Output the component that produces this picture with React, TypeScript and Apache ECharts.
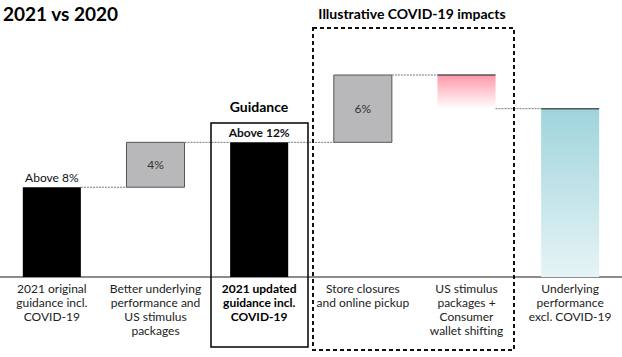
import React, { useEffect, useRef } from "react";
import * as echarts from "echarts";

const categories = [
  "2021 original\nguidance incl.\nCOVID-19",
  "Better underlying\nperformance and\nUS stimulus\npackages",
  "2021 updated\nguidance incl.\nCOVID-19",
  "Store closures\nand online pickup",
  "US stimulus\npackages +\nConsumer\nwallet shifting",
  "Underlying\nperformance\nexcl. COVID-19",
];
const starts = [0, 8, 0, 12, 18, 0];
const ends = [8, 12, 12, 18, 15, 15];
const kinds = ["total", "step", "total", "step", "drop", "result"];
const barLabels = ["Above 8%", "4%", "Above 12%", "6%", "", ""];

const FONT = "Lato, 'Noto Sans', sans-serif";

export default function App() {
  const ref = useRef<HTMLDivElement>(null);
  useEffect(() => {
    document.body.style.margin = "0";
    const chart = echarts.init(ref.current!, null, { renderer: "svg" });
    const data = categories.map((_, i) => [i, starts[i], ends[i]]);
    chart.setOption({
      animation: false,
      textStyle: { fontFamily: FONT },
      grid: { left: 0, right: 0, top: 75, bottom: 80 },
      xAxis: {
        type: "category",
        data: categories,
        axisLine: { lineStyle: { color: "#8c8c8c", width: 2 } },
        axisTick: { show: false },
        axisLabel: {
          interval: 0,
          margin: 4,
          fontFamily: FONT,
          fontSize: 12,
          lineHeight: 14,
          color: "#222",
          formatter: (v: string, i: number) =>
            i === 2
              ? v
                  .split("\n")
                  .map((l) => `{b|${l}}`)
                  .join("\n")
              : v,
          rich: {
            b: {
              fontWeight: "bold",
              fontFamily: FONT,
              fontSize: 12,
              lineHeight: 14,
              color: "#000",
            },
          },
        },
      },
      yAxis: { type: "value", min: 0, max: 18, show: false, splitLine: { show: false } },
      series: [
        {
          type: "custom",
          data,
          renderItem: (params: any, api: any) => {
            const i = api.value(0);
            const s = api.value(1);
            const e = api.value(2);
            const c0 = api.coord([i, s]);
            const c1 = api.coord([i, e]);
            const w = api.size([1, 0])[0] * 0.56;
            const x = c0[0] - w / 2;
            const top = Math.min(c0[1], c1[1]);
            const h = Math.abs(c0[1] - c1[1]);
            const kind = kinds[i];
            const children: any[] = [];
            let style: any;
            if (kind === "total") style = { fill: "#000" };
            else if (kind === "step")
              style = { fill: "#b8b8ba", stroke: "#555", lineWidth: 1 };
            else if (kind === "drop")
              style = {
                fill: new echarts.graphic.LinearGradient(0, 0, 0, 1, [
                  { offset: 0, color: "#ff97a9" },
                  { offset: 1, color: "#ffffff" },
                ]),
              };
            else
              style = {
                fill: new echarts.graphic.LinearGradient(0, 0, 0, 1, [
                  { offset: 0, color: "#9fd4dc" },
                  { offset: 1, color: "#e6f4f6" },
                ]),
              };
            children.push({ type: "rect", shape: { x, y: top, width: w, height: h }, style });
            if (kind === "drop" || kind === "result") {
              children.push({
                type: "line",
                shape: { x1: x, y1: top, x2: x + w, y2: top },
                style: { stroke: "#555", lineWidth: 1.5 },
              });
            }
            const lab = barLabels[i];
            if (lab) {
              if (kind === "total") {
                children.push({
                  type: "text",
                  style: {
                    text: lab,
                    x: c0[0],
                    y: top - 9.5,
                    align: "center",
                    verticalAlign: "middle",
                    fill: "#111",
                    fontSize: 12,
                    fontWeight: i === 2 ? "bold" : "normal",
                    fontFamily: FONT,
                  },
                });
              } else {
                children.push({
                  type: "text",
                  style: {
                    text: lab,
                    x: c0[0],
                    y: top + h / 2,
                    align: "center",
                    verticalAlign: "middle",
                    fill: "#333",
                    fontSize: 12,
                    fontFamily: FONT,
                  },
                });
              }
            }
            if (i < categories.length - 1) {
              const lvl = api.coord([i, e])[1];
              const nx = api.coord([i + 1, 0])[0] - w / 2;
              children.push({
                type: "line",
                shape: { x1: x + w, y1: lvl, x2: nx, y2: lvl },
                style: { stroke: "#777", lineWidth: 1, lineDash: [2, 1] },
              });
            }
            return { type: "group", children };
          },
        },
      ],
      graphic: [
        {
          type: "text",
          left: 3,
          top: 4,
          style: { text: "2021 vs 2020", fill: "#000", fontSize: 19, fontWeight: "bold", fontFamily: FONT },
        },
        {
          type: "text",
          x: 412,
          y: 13,
          style: {
            text: "Illustrative COVID-19 impacts",
            align: "center",
            verticalAlign: "middle",
            fill: "#000",
            fontSize: 14,
            fontWeight: "bold",
            fontFamily: FONT,
          },
        },
        {
          type: "text",
          x: 259,
          y: 106,
          style: {
            text: "Guidance",
            align: "center",
            verticalAlign: "middle",
            fill: "#000",
            fontSize: 14,
            fontWeight: "bold",
            fontFamily: FONT,
          },
        },
        {
          type: "rect",
          shape: { x: 211, y: 123, width: 97, height: 224 },
          style: { fill: "none", stroke: "#000", lineWidth: 1.5 },
          z: 10,
        },
        {
          type: "rect",
          shape: { x: 313, y: 28, width: 201, height: 322 },
          style: { fill: "none", stroke: "#111", lineWidth: 2, lineDash: [4, 3] },
          z: 10,
        },
      ],
    });
    return () => chart.dispose();
  }, []);
  return <div ref={ref} style={{ width: 622, height: 357 }} />;
}
